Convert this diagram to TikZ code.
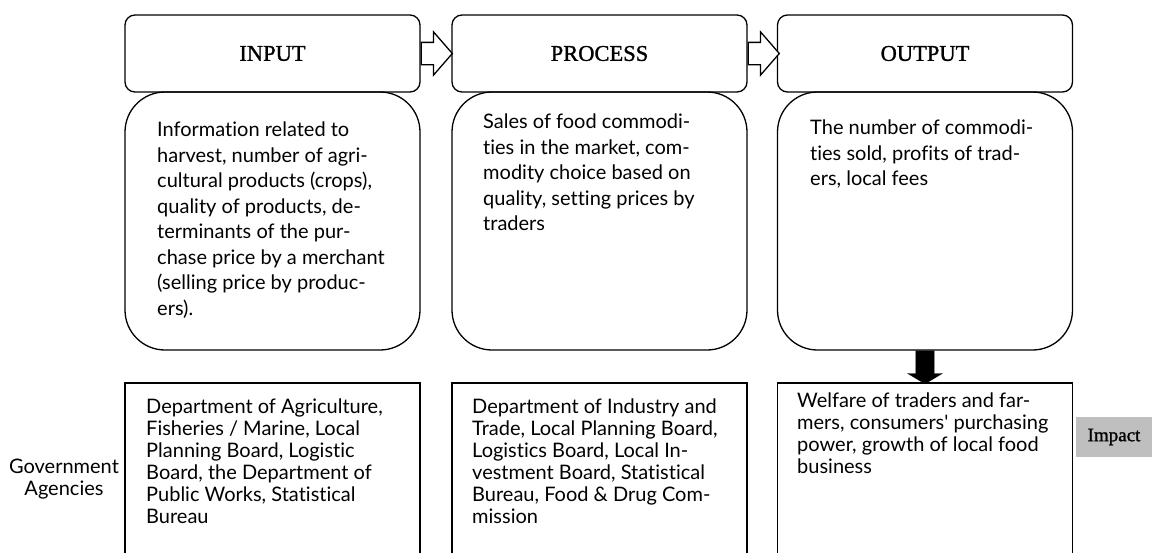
\documentclass[tikz,border=0pt]{standalone}
\usepackage{fontspec}
\setmainfont{Lato}[Ligatures={NoCommon}]
\newfontfamily\headfont{Liberation Serif}[FakeBold=1.2]
\usetikzlibrary{shapes.arrows}
\begin{document}
\begin{tikzpicture}[x=1pt,y=-1pt]
	\tikzstyle{Head} = [draw, line width=1.3pt, rounded corners=10, minimum width=295, minimum height=77, inner sep=0pt, font=\headfont\fontsize{22.5}{26}\selectfont]
	\tikzstyle{Body} = [draw, line width=1.3pt, rounded corners=40, minimum width=295, minimum height=258, inner sep=0pt]
	\tikzstyle{Base} = [draw, line width=1.3pt, minimum width=295, minimum height=220, inner sep=0pt]
	\tikzstyle{Txt} = [anchor=north west, inner sep=0pt, align=left, font=\fontsize{20}{25.5}\selectfont]
	\tikzstyle{BaseTxt} = [anchor=north west, inner sep=0pt, align=left, font=\fontsize{20}{22}\selectfont]
	\tikzstyle{Hollow} = [single arrow, draw, line width=1.3pt, fill=white, inner xsep=0pt, inner ysep=10.5pt, minimum height=31, single arrow head extend=10.5pt, single arrow tip angle=98, anchor=tail]
	\clip (0,0) rectangle (1152,552);
	% top row
	\node (inhead) at (272.5,53.5) [Head] {INPUT};
	\node (prochead) at (599.5,53.5) [Head] {PROCESS};
	\node (outhead) at (925,53.5) [Head] {OUTPUT};
	\node (inbody) at (272.5,221) [Body] {};
	\node (procbody) at (599.5,221) [Body] {};
	\node (outbody) at (925,221) [Body] {};
	\node (intext) at (157,122) [Txt] {Information related to\\harvest, number of agri-\\cultural products (crops),\\quality of products, de-\\terminants of the pur-\\chase price by a merchant\\(selling price by produc-\\ers).};
	\node (proctext) at (483,114) [Txt] {Sales of food commodi-\\ties in the market, com-\\modity choice based on\\quality, setting prices by\\traders};
	\node (outtext) at (810,120) [Txt] {The number of commodi-\\ties sold, profits of trad-\\ers, local fees};
	\node (arr1) at (inhead.east) [Hollow] {};
	\node (arr2) at (prochead.east) [Hollow] {};
	% bottom row
	\node (inbase) at (272.5,493) [Base] {};
	\node (procbase) at (599.5,493) [Base] {};
	\node (outbase) at (925,493) [Base] {};
	\node (down) at (outbody.south) [single arrow, draw, fill=black, shape border rotate=270, inner sep=9pt, minimum height=33, single arrow head extend=8pt, single arrow tip angle=118, anchor=tail] {};
	\node (inbasetext) at (146,399) [BaseTxt] {Department of Agriculture,\\Fisheries / Marine, Local\\Planning Board, Logistic\\Board, the Department of\\Public Works, Statistical\\Bureau};
	\node (procbasetext) at (472,399) [BaseTxt] {Department of Industry and\\Trade, Local Planning Board,\\Logistics Board, Local In-\\vestment Board, Statistical\\Bureau, Food \& Drug Com-\\mission};
	\node (outbasetext) at (797,393) [BaseTxt] {Welfare of traders and far-\\mers, consumers\textquotesingle{} purchasing\\power, growth of local food\\business};
	\node (gov) at (64,479) [align=center, inner sep=0pt, font=\fontsize{20}{22}\selectfont] {Government\\Agencies};
	\node (impact) at (1114,437) [fill=black!25, minimum width=76, minimum height=40, inner sep=0pt, font=\headfont\fontsize{19}{22}\selectfont] {Impact};
\end{tikzpicture}
\end{document}
